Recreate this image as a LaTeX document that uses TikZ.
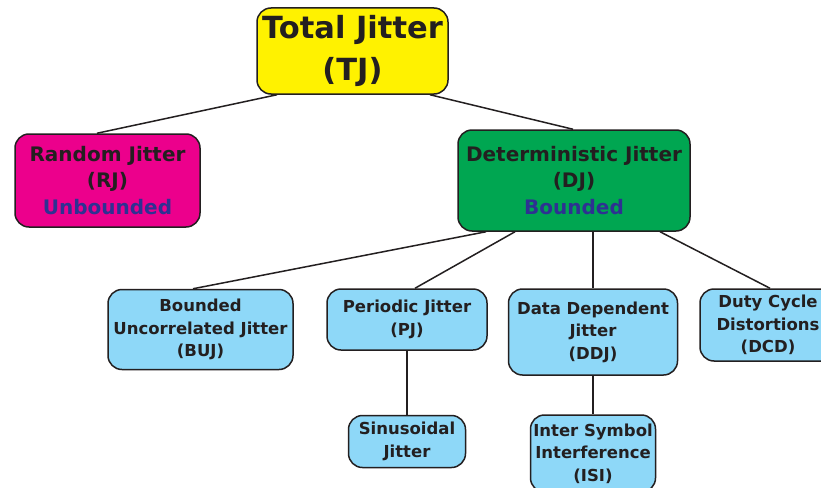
\documentclass[tikz,border=0pt]{standalone}
\usepackage{fontspec}
\setmainfont{DejaVu Sans}
\definecolor{tjyellow}{HTML}{FFF200}
\definecolor{rjpink}{HTML}{EC008C}
\definecolor{djgreen}{HTML}{00A651}
\definecolor{leafblue}{HTML}{8ED8F8}
\definecolor{inkdark}{HTML}{231F20}
\definecolor{boundblue}{HTML}{2E3192}
\begin{document}
\begin{tikzpicture}[x=1pt,y=-1pt,
  box/.style={draw=inkdark,line width=1.5pt,rounded corners=14pt,align=center,
    text=inkdark,inner sep=0pt,font=\bfseries},
  topbox/.style={box,fill=tjyellow,font=\fontsize{30.5}{42}\selectfont\bfseries},
  midbox/.style={box,fill=#1,font=\fontsize{20}{26.5}\selectfont\bfseries},
  leaf/.style={box,fill=leafblue,font=\fontsize{16.5}{22.5}\selectfont\bfseries},
  link/.style={draw=inkdark,line width=1.5pt}]
\clip (0,0) rectangle (821,487);
\fill[white] (0,0) rectangle (821,487);

% boxes
\node[topbox,minimum width=191pt,minimum height=86pt] (tj) at (352.5,51) {Total Jitter\\(TJ)};
\node[midbox=rjpink,minimum width=185pt,minimum height=93pt] (rj) at (107.5,180.5)
  {Random Jitter\\(RJ)\\\textcolor{boundblue}{Unbounded}};
\node[midbox=djgreen,minimum width=232pt,minimum height=101pt] (dj) at (574,180.5)
  {Deterministic Jitter\\(DJ)\\\textcolor{boundblue}{Bounded}};
\node[leaf,minimum width=185pt,minimum height=80pt] (buj) at (200.5,329.5)
  {Bounded\\Uncorrelated Jitter\\(BUJ)};
\node[leaf,minimum width=160pt,minimum height=61pt] (pj) at (407,319.5)
  {Periodic Jitter\\(PJ)};
\node[leaf,minimum width=169pt,minimum height=86pt] (ddj) at (593,332)
  {Data Dependent\\Jitter\\(DDJ)};
\node[leaf,minimum width=136pt,minimum height=72pt] (dcd) at (768,325)
  {Duty Cycle\\Distortions\\(DCD)};
\node[leaf,minimum width=117pt,minimum height=52pt] (sj) at (407,441.5)
  {Sinusoidal\\Jitter};
\node[leaf,minimum width=125pt,minimum height=77pt] (isi) at (593,453.5)
  {Inter Symbol\\Interference\\(ISI)};

% connectors
\draw[link] ([xshift=-75.5pt]tj.south) -- ([xshift=-10.5pt]rj.north);
\draw[link] ([xshift=77.5pt]tj.south) -- ([xshift=-1pt]dj.north);
\draw[link] ([xshift=-88pt]dj.south) -- ([xshift=-7.5pt]buj.north);
\draw[link] ([xshift=-59pt]dj.south) -- ([xshift=8pt]pj.north);
\draw[link] ([xshift=19pt]dj.south) -- (ddj.north);
\draw[link] ([xshift=86pt]dj.south) -- ([xshift=2pt]dcd.north);
\draw[link] (pj.south) -- (sj.north);
\draw[link] (ddj.south) -- (isi.north);
\end{tikzpicture}
\end{document}
